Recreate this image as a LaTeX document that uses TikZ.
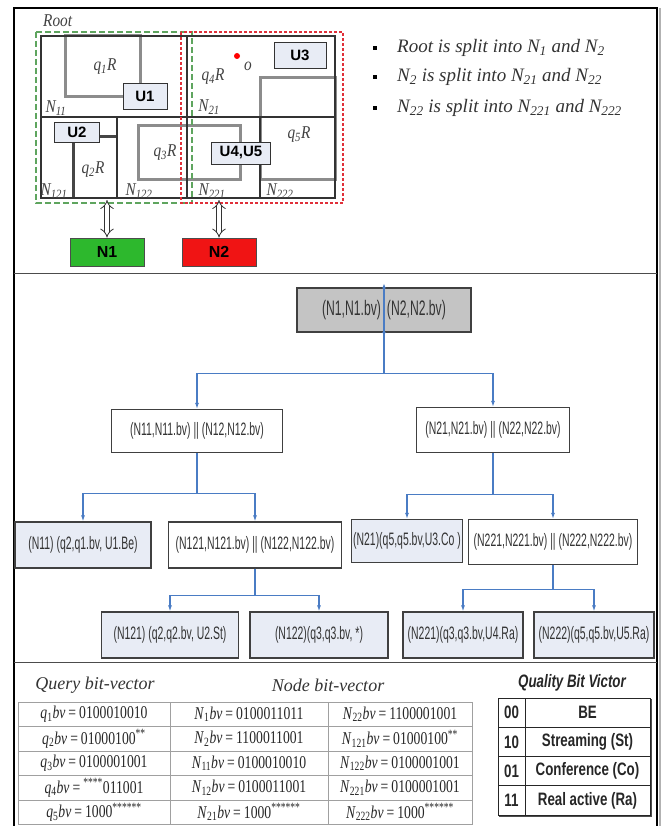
\documentclass[tikz,border=0pt]{standalone}
\usepackage{fontspec}
\setmainfont{Liberation Serif}
\setsansfont{Liberation Sans}
\newfontfamily\narrowsf[FakeStretch=0.58]{Liberation Sans}
\newfontfamily\qualsf[FakeStretch=0.74]{Liberation Sans}
\newfontfamily\narrowrm[FakeStretch=0.76]{Liberation Serif}
\newfontfamily\labrm[FakeStretch=0.85]{Liberation Serif}
\usetikzlibrary{arrows.meta, positioning}
\definecolor{linkblue}{HTML}{4A7CC4}
\definecolor{leafblue}{HTML}{E8ECF5}
\definecolor{qgray}{HTML}{8C8C8C}
\definecolor{ngreen}{HTML}{2DB82D}
\definecolor{nred}{HTML}{F01414}
\definecolor{rootgray}{HTML}{C4C4C4}
\definecolor{gridgray}{HTML}{A0A0A0}
\definecolor{dashgreen}{HTML}{5FA55F}
\definecolor{dashred}{HTML}{E0303A}
\def\rowH{24.5}
\def\qrowH{29.25}
\newcommand{\bv}[3]{\textit{#1}\textsubscript{#2}\textit{bv}\,=\,#3}
\newcommand{\stars}[1]{\textsuperscript{#1}}
\newcommand{\qlbl}[3]{\textit{#1}\textsubscript{#2}\textit{#3}}
\begin{document}
\begin{tikzpicture}[
    x=1pt, y=-1pt,
    every node/.style={inner sep=0pt},
    region/.style={draw=black!80, line width=1.4pt},
    qrect/.style={draw=qgray, line width=3pt},
    ubox/.style={draw=black!80, fill=leafblue, line width=0.8pt, font=\sffamily\bfseries\fontsize{15}{15}\selectfont},
    nbox/.style={draw=black!70, line width=0.8pt, minimum width=74, minimum height=28, font=\sffamily\bfseries\fontsize{16}{16}\selectfont},
    dbl/.style={draw=black!80, double=white, double distance=4pt, line width=0.8pt, {Implies[scale=2]}-{Implies[scale=2]}},
    lab/.style={font=\labrm\itshape\fontsize{18}{18}\selectfont, text=black!75},
    bullet/.style={fill=black, minimum size=4.5pt},
    btext/.style={anchor=west, font=\itshape\fontsize{19}{19}\selectfont, text=black!80},
    tnode/.style={draw=black!75, line width=1.2pt, fill=white, text=black!80, font=\narrowsf\fontsize{18}{18}\selectfont},
    leaf/.style={tnode, fill=leafblue},
    link/.style={draw=linkblue, line width=1.2pt, -{Latex[length=6pt,width=4pt]}},
    head/.style={font=\itshape\fontsize{18}{18}\selectfont, text=black!80},
    cell/.style={font=\narrowrm\fontsize{18}{18}\selectfont, text=black!85},
    grid/.style={draw=gridgray, line width=0.6pt},
    qcell/.style={font=\qualsf\bfseries\fontsize{18}{18}\selectfont, text=black!85}
]
\useasboundingbox (0,0) rectangle (664,826);
% frame
\draw[line width=1.5pt] (14,826) -- (14,8) -- (657,8) -- (657,826);
\draw[gray!60, line width=1.5pt] (660,8) -- (660,826);
\draw[black!70, line width=1pt] (14,273) -- (657,273);
\draw[black!70, line width=1pt] (14,662) -- (657,662);

% space partition
\node[lab, anchor=west] (rootlbl) at (43,21) {Root};
\draw[qrect] (65,36) rectangle (140,97);
\draw[qrect] (138,126) rectangle (240,180);
\draw[qrect] (260,78) rectangle (335,180);
\draw[qrect, draw=qgray!50!black] (73,198) -- (73,137) -- (117,137);
\draw[region] (41,36) rectangle (335,198);
\draw[region] (187,36) -- (187,198);
\draw[region] (41,117) -- (335,117);
\draw[region] (117,117) -- (117,198);
\draw[region] (260,117) -- (260,198);
\draw[dashgreen, line width=1.6pt, dash pattern=on 6pt off 3pt] (36,32) rectangle (192,203);
\draw[dashred, line width=1.6pt, dash pattern=on 3pt off 2pt] (181,32) rectangle (343,203);

\node[lab] (q1) at (105,67) {\qlbl{q}{1}{R}};
\node[lab] (q2) at (93,170) {\qlbl{q}{2}{R}};
\node[lab] (q3) at (165,153) {\qlbl{q}{3}{R}};
\node[lab] (q4) at (213,77) {\qlbl{q}{4}{R}};
\node[lab] (q5) at (299,135) {\qlbl{q}{5}{R}};
\node[lab] (l11) at (56,108) {\qlbl{N}{11}{}};
\node[lab] (l121) at (54,191) {\qlbl{N}{121}{}};
\node[lab] (l122) at (139,191) {\qlbl{N}{122}{}};
\node[lab] (l21) at (209,107) {\qlbl{N}{21}{}};
\node[lab] (l221) at (212,191) {\qlbl{N}{221}{}};
\node[lab] (l222) at (280,191) {\qlbl{N}{222}{}};
\fill[red] (237,56) circle (3pt);
\node[lab] (o) at (248,66) {o};

\node[ubox, minimum width=44, minimum height=26] (u1) at (145,96) {U1};
\node[ubox, minimum width=45, minimum height=20] (u2) at (77,132) {U2};
\node[ubox, minimum width=52, minimum height=26] (u3) at (300,55) {U3};
\node[ubox, minimum width=59, minimum height=22] (u45) at (241,153) {U4,U5};

\node[nbox, fill=ngreen] (n1) at (107,252) {N1};
\node[nbox, fill=nred] (n2) at (219,252) {N2};
\coordinate (a1) at (107,200);
\coordinate (a2) at (219,200);
\draw[dbl] (a1) -- (n1.north);
\draw[dbl] (a2) -- (n2.north);

% splits
\foreach \yy/\txt [count=\i] in {
    48/{Root is split into N\textsubscript{1} and N\textsubscript{2}},
    77/{N\textsubscript{2} is split into N\textsubscript{21} and N\textsubscript{22}},
    108/{N\textsubscript{22} is split into N\textsubscript{221} and N\textsubscript{222}}} {
  \node[bullet] (b\i) at (375,\yy) {};
  \node[btext] (t\i) at (397,\yy) {\txt};
}

% tree
\node[tnode, fill=rootgray, minimum width=174, minimum height=44, font=\narrowsf\fontsize{21}{21}\selectfont] (root) at (384,310) {(N1,N1.bv)\hspace{6pt}(N2,N2.bv)};
\node[tnode, minimum width=171, minimum height=43] (l1) at (197,431) {(N11,N11.bv) || (N12,N12.bv)};
\node[tnode, minimum width=153, minimum height=45] (r1) at (493,430) {(N21,N21.bv) || (N22,N22.bv)};
\node[leaf, minimum width=136, minimum height=46] (t11) at (83,545) {(N11) (q2,q1.bv, U1.Be)};
\node[tnode, minimum width=173, minimum height=46] (t12) at (255,545) {(N121,N121.bv) || (N122,N122.bv)};
\node[leaf, minimum width=137, minimum height=46] (t121) at (170,635) {(N121) (q2,q2.bv, U2.St)};
\node[leaf, minimum width=138, minimum height=46] (t122) at (319,635) {(N122)(q3,q3.bv, *)};
\node[leaf, minimum width=111, minimum height=43] (t21) at (407,541) {(N21)(q5,q5.bv,U3.Co )};
\node[tnode, minimum width=169, minimum height=45] (t22) at (553,542) {(N221,N221.bv) || (N222,N222.bv)};
\node[leaf, minimum width=120, minimum height=46] (t221) at (463,635) {(N221)(q3,q3.bv,U4.Ra)};
\node[leaf, minimum width=120, minimum height=46] (t222) at (594,635) {(N222)(q5,q5.bv,U5.Ra)};

\draw[link, {Latex[length=5pt,width=4pt]}-] ([yshift=4pt]root.north) -- (root.south);
\fill[linkblue] (root.south) circle (1.8pt);
\draw[link] (root.south) -- ++(0,41) -| (l1.north);
\draw[link] (root.south) -- ++(0,41) -| (r1.north);
\draw[link] (l1.south) -- ++(0,40) -| (t11.north);
\draw[link] (l1.south) -- ++(0,40) -| (t12.north);
\draw[link] (r1.south) -- ++(0,41) -| (t21.north);
\draw[link] (r1.south) -- ++(0,41) -| (t22.north);
\draw[link] (t12.south) -- ++(0,27) -| (t121.north);
\draw[link] (t12.south) -- ++(0,27) -| (t122.north);
\draw[link] (t22.south) -- ++(0,24) -| (t221.north);
\draw[link] (t22.south) -- ++(0,24) -| (t222.north);

% bit-vector tables
\node[head] (qhead) at (95,685) {Query bit-vector};
\node[head] (nhead) at (328,685) {Node bit-vector};
\draw[grid] (18,702) rectangle (170,824);
\draw[grid] (170,702) rectangle (472,824);
\draw[grid] (328,702) -- (328,824);
\foreach \k in {1,...,4}
  \draw[grid] (18,{702+\rowH*\k}) -- (472,{702+\rowH*\k});
\foreach \ix/\val [count=\i] in {1/0100010010, 2/01000100\stars{**}, 3/0100001001, 4/\stars{****}011001, 5/1000\stars{******}}
  \node[cell] (qb\i) at (94,{702+\rowH*(\i-0.5)}) {\bv{q}{\ix}{\val}};
\foreach \ix/\val [count=\i] in {1/0100011011, 2/1100011001, 11/0100010010, 12/0100011001, 21/1000\stars{******}}
  \node[cell] (nb\i) at (249,{702+\rowH*(\i-0.5)}) {\bv{N}{\ix}{\val}};
\foreach \ix/\val [count=\i] in {22/1100001001, 121/01000100\stars{**}, 122/0100001001, 221/0100001001, 222/1000\stars{******}}
  \node[cell] (mb\i) at (400,{702+\rowH*(\i-0.5)}) {\bv{N}{\ix}{\val}};

% quality table
\node[qcell, font=\qualsf\bfseries\itshape\fontsize{18}{18}\selectfont] (qtitle) at (572,683) {Quality Bit Victor};
\draw[black!70, line width=2pt] (651,699) -- (651,816) -- (499,816);
\draw[black!85, line width=1pt] (498,698) rectangle (650,815);
\draw[black!85, line width=1pt] (525,698) -- (525,815);
\foreach \k in {1,2,3}
  \draw[black!85, line width=1pt] (498,{698+\qrowH*\k}) -- (650,{698+\qrowH*\k});
\foreach \code/\name [count=\i] in {00/BE, 10/Streaming (St), 01/Conference (Co), 11/Real active (Ra)} {
  \node[qcell] (qc\i) at (511.5,{698+\qrowH*(\i-0.5)}) {\code};
  \node[qcell] (qn\i) at (587.5,{698+\qrowH*(\i-0.5)}) {\name};
}
\end{tikzpicture}
\end{document}
